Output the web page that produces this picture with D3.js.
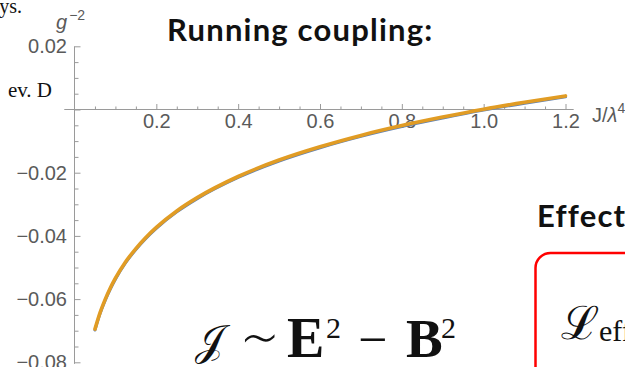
<!DOCTYPE html>
<html>
<head>
<meta charset="utf-8">
<script src="https://cdn.jsdelivr.net/npm/d3@7"></script>
<style>
  html, body { margin: 0; padding: 0; background: #fff; overflow: hidden; }
  svg { display: block; }
</style>
</head>
<body>
<svg id="chart" width="625" height="367"></svg>
<script>
// Coupling J/λ⁴ (x) and inverse squared coupling g⁻² (y)
const jValues = [0.05, 0.0625, 0.075, 0.0875, 0.1, 0.125, 0.15, 0.175, 0.2, 0.25, 0.3, 0.4, 0.5, 0.6, 0.7, 0.8, 0.9, 1.0, 1.1, 1.2];
// numerical solution (blue) and analytic running coupling (orange)
const gNumeric = [-0.0698, -0.0646, -0.0604, -0.0568, -0.0537, -0.0485, -0.0443, -0.0407, -0.0376, -0.0324, -0.0282, -0.0215, -0.0163, -0.0121, -0.0085, -0.0054, -0.0027, -0.0002, 0.0020, 0.0040];
const gRunning = [-0.0695, -0.0643, -0.0601, -0.0565, -0.0534, -0.0482, -0.0440, -0.0404, -0.0373, -0.0321, -0.0279, -0.0212, -0.0160, -0.0118, -0.0082, -0.0051, -0.0024, 0.0001, 0.0023, 0.0043];

const xMajor = [0.2, 0.4, 0.6, 0.8, 1.0, 1.2];
const yMajor = [0.02, 0, -0.02, -0.04, -0.06, -0.08];
const yLabelled = [0.02, -0.02, -0.04, -0.06, -0.08];

const svg = d3.select("#chart");

const x = d3.scaleLinear().domain([0, 1.2]).range([74.5, 565.5]);
const y = d3.scaleLinear().domain([0.02, -0.08]).range([46.3, 362.3]);

const axisColor = "#9a9a9a";
const labelColor = "#5a5a5a";
const tickFont = "'Liberation Sans', Arial, sans-serif";

// --- side texts of the slide ---
const serif = "'Liberation Serif', 'DejaVu Serif', serif";
svg.append("text").attr("x", 22).attr("y", 13).attr("text-anchor", "end")
  .attr("font-family", serif).attr("font-size", 20).attr("fill", "#111").text("ys.");
svg.append("text").attr("x", 52).attr("y", 97).attr("text-anchor", "end")
  .attr("font-family", serif).attr("font-size", 21).attr("fill", "#111").text("ev. D");

const heading = "Lato, 'Open Sans', sans-serif";
svg.append("text").attr("x", 167).attr("y", 40.5)
  .attr("font-family", heading).attr("font-weight", 700).attr("font-size", 31)
  .attr("letter-spacing", 1.2).attr("fill", "#111").text("Running coupling:");
svg.append("text").attr("x", 537).attr("y", 226.5)
  .attr("font-family", heading).attr("font-weight", 700).attr("font-size", 31)
  .attr("letter-spacing", 1.2).attr("fill", "#111").text("Effective");

// --- axes ---
const axesG = svg.append("g");
axesG.append("line")
  .attr("x1", x(-0.025)).attr("x2", x(1.22))
  .attr("y1", y(0)).attr("y2", y(0))
  .attr("stroke", axisColor).attr("stroke-width", 1);
axesG.append("line")
  .attr("x1", x(0)).attr("x2", x(0))
  .attr("y1", y(0.02)).attr("y2", y(-0.0805))
  .attr("stroke", axisColor).attr("stroke-width", 1);

const xMinorAxis = d3.axisBottom(x)
  .tickValues(d3.range(0.05, 1.21, 0.05).filter(v => Math.abs(v / 0.2 - Math.round(v / 0.2)) > 1e-6))
  .tickSizeInner(-3).tickSizeOuter(0).tickFormat("");
const xMajorAxis = d3.axisBottom(x)
  .tickValues(xMajor).tickSizeInner(-5.5).tickSizeOuter(0).tickPadding(4)
  .tickFormat(d3.format(".1f"));

[xMinorAxis, xMajorAxis].forEach(ax => {
  const g = axesG.append("g").attr("transform", `translate(0,${y(0)})`).call(ax);
  g.select(".domain").remove();
  g.selectAll(".tick line").attr("stroke", axisColor);
  g.selectAll(".tick text").attr("fill", labelColor)
    .attr("font-family", tickFont).attr("font-size", 20);
});

const yMinorAxis = d3.axisLeft(y)
  .tickValues(d3.range(-0.08, 0.0201, 0.005).filter(v => Math.abs(v / 0.02 - Math.round(v / 0.02)) > 1e-6))
  .tickSizeInner(-4).tickSizeOuter(0).tickFormat("");
const yMajorAxis = d3.axisLeft(y)
  .tickValues(yMajor).tickSizeInner(-6).tickSizeOuter(0).tickPadding(7.5)
  .tickFormat(d => yLabelled.includes(d) ? d3.format(".2f")(d) : "");

[yMinorAxis, yMajorAxis].forEach(ax => {
  const g = axesG.append("g").attr("transform", `translate(${x(0)},0)`).call(ax);
  g.select(".domain").remove();
  g.selectAll(".tick line").attr("stroke", axisColor);
  g.selectAll(".tick text").attr("fill", labelColor)
    .attr("font-family", tickFont).attr("font-size", 20);
});

// axis titles
const yTitle = svg.append("text").attr("x", 56).attr("y", 29)
  .attr("font-family", tickFont).attr("font-size", 20).attr("fill", labelColor);
yTitle.append("tspan").attr("font-style", "italic").text("g");
yTitle.append("tspan").attr("font-size", 14).attr("dy", -9).attr("dx", 2).text("\u22122");

const xTitle = svg.append("text").attr("x", 592).attr("y", 122)
  .attr("font-family", tickFont).attr("font-size", 20).attr("fill", labelColor);
xTitle.append("tspan").text("J/");
xTitle.append("tspan").attr("font-style", "italic").text("λ");
xTitle.append("tspan").attr("font-size", 14).attr("dy", -9).text("4");

// --- curves ---
const lineGen = vals => d3.line()
  .x((d, i) => x(jValues[i]))
  .y((d, i) => y(vals[i]))
  .curve(d3.curveMonotoneX)(vals);

svg.append("path").attr("d", lineGen(gNumeric))
  .attr("fill", "none").attr("stroke", "#5E81B5").attr("stroke-width", 3)
  .attr("stroke-linecap", "round");
svg.append("path").attr("d", lineGen(gRunning))
  .attr("fill", "none").attr("stroke", "#E19C24").attr("stroke-width", 3.6)
  .attr("stroke-linecap", "round");

// --- formula: J ~ E^2 - B^2 ---
const mathG = svg.append("g").attr("font-family", serif).attr("fill", "#111");
mathG.append("text").attr("x", 195).attr("y", 355).attr("font-size", 42)
  .text("\uD835\uDCA5");
mathG.append("text").attr("x", 240).attr("y", 360).attr("font-size", 62)
  .attr("font-family", "'DejaVu Sans', sans-serif").attr("font-weight", 200).text("∼");
mathG.append("text").attr("x", 287).attr("y", 357).attr("font-size", 56)
  .attr("font-weight", 700).text("E");
mathG.append("text").attr("x", 326).attr("y", 338).attr("font-size", 30).text("2");
mathG.append("text").attr("x", 358).attr("y", 357).attr("font-size", 52).text("−");
mathG.append("text").attr("x", 406).attr("y", 357).attr("font-size", 55)
  .attr("font-weight", 700).text("B");
mathG.append("text").attr("x", 441).attr("y", 338).attr("font-size", 30).text("2");

// --- red framed box ---
svg.append("rect").attr("x", 535.5).attr("y", 253).attr("width", 200).attr("height", 200)
  .attr("rx", 15).attr("fill", "none").attr("stroke", "#ff0000").attr("stroke-width", 2.5);
const lag = svg.append("text").attr("x", 561).attr("y", 339)
  .attr("font-family", serif).attr("fill", "#111");
lag.append("tspan").attr("font-size", 46).text("ℒ");
lag.append("tspan").attr("font-size", 30).attr("dy", 2).text("eff");
</script>
</body>
</html>
